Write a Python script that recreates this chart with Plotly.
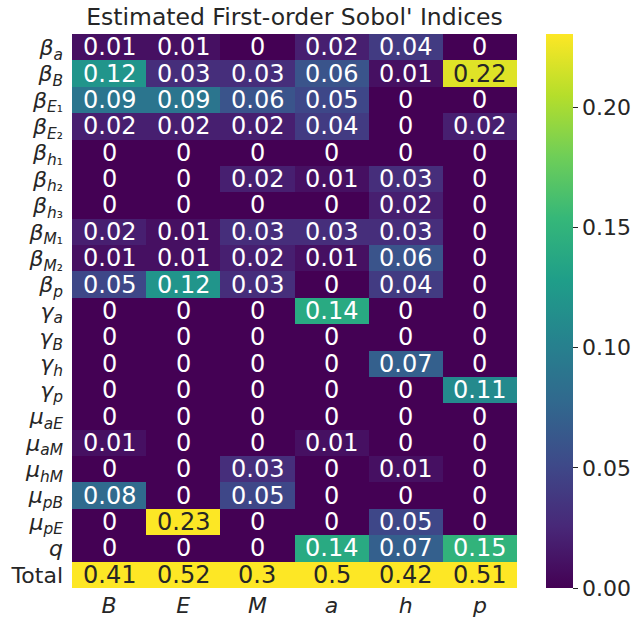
import plotly.graph_objects as go

columns = ["B", "E", "M", "a", "h", "p"]
row_labels = [
    "<i>β</i><sub><i>a</i></sub>",
    "<i>β</i><sub><i>B</i></sub>",
    "<i>β</i><sub><i>E</i>₁</sub>",
    "<i>β</i><sub><i>E</i>₂</sub>",
    "<i>β</i><sub><i>h</i>₁</sub>",
    "<i>β</i><sub><i>h</i>₂</sub>",
    "<i>β</i><sub><i>h</i>₃</sub>",
    "<i>β</i><sub><i>M</i>₁</sub>",
    "<i>β</i><sub><i>M</i>₂</sub>",
    "<i>β</i><sub><i>p</i></sub>",
    "<i>γ</i><sub><i>a</i></sub>",
    "<i>γ</i><sub><i>B</i></sub>",
    "<i>γ</i><sub><i>h</i></sub>",
    "<i>γ</i><sub><i>p</i></sub>",
    "<i>μ</i><sub><i>aE</i></sub>",
    "<i>μ</i><sub><i>aM</i></sub>",
    "<i>μ</i><sub><i>hM</i></sub>",
    "<i>μ</i><sub><i>pB</i></sub>",
    "<i>μ</i><sub><i>pE</i></sub>",
    "<i>q</i>",
    "Total",
]

beta_a  = [0.01, 0.01, 0, 0.02, 0.04, 0]
beta_B  = [0.12, 0.03, 0.03, 0.06, 0.01, 0.22]
beta_E1 = [0.09, 0.09, 0.06, 0.05, 0, 0]
beta_E2 = [0.02, 0.02, 0.02, 0.04, 0, 0.02]
beta_h1 = [0, 0, 0, 0, 0, 0]
beta_h2 = [0, 0, 0.02, 0.01, 0.03, 0]
beta_h3 = [0, 0, 0, 0, 0.02, 0]
beta_M1 = [0.02, 0.01, 0.03, 0.03, 0.03, 0]
beta_M2 = [0.01, 0.01, 0.02, 0.01, 0.06, 0]
beta_p  = [0.05, 0.12, 0.03, 0, 0.04, 0]
gamma_a = [0, 0, 0, 0.14, 0, 0]
gamma_B = [0, 0, 0, 0, 0, 0]
gamma_h = [0, 0, 0, 0, 0.07, 0]
gamma_p = [0, 0, 0, 0, 0, 0.11]
mu_aE   = [0, 0, 0, 0, 0, 0]
mu_aM   = [0.01, 0, 0, 0.01, 0, 0]
mu_hM   = [0, 0, 0.03, 0, 0.01, 0]
mu_pB   = [0.08, 0, 0.05, 0, 0, 0]
mu_pE   = [0, 0.23, 0, 0, 0.05, 0]
q_row   = [0, 0, 0, 0.14, 0.07, 0.15]
total   = [0.41, 0.52, 0.3, 0.5, 0.42, 0.51]

z = [beta_a, beta_B, beta_E1, beta_E2, beta_h1, beta_h2, beta_h3, beta_M1,
     beta_M2, beta_p, gamma_a, gamma_B, gamma_h, gamma_p, mu_aE, mu_aM,
     mu_hM, mu_pB, mu_pE, q_row, total]

ZMAX = 0.2305
FONT = "DejaVu Sans"
DARK = "#262626"

xs = list(range(len(columns)))
ys = list(range(len(row_labels)))

fig = go.Figure(go.Heatmap(
    z=z, x=xs, y=ys,
    colorscale="Viridis", zmin=0, zmax=ZMAX,
    xgap=0, ygap=0,
    colorbar=dict(
        x=(546 - 72) / 445, xanchor="left", xref="paper", xpad=0, ypad=0,
        y=0.5, yanchor="middle", len=1.0, lenmode="fraction",
        thickness=27, outlinewidth=0,
        tickvals=[0, 0.05, 0.10, 0.15, 0.20], tickformat=".2f",
        ticks="outside", ticklen=5, tickwidth=1, tickcolor=DARK,
        tickfont=dict(family=FONT, size=22, color=DARK),
    ),
    hoverinfo="skip",
))

annotations = []
for i, row in enumerate(z):
    for j, v in enumerate(row):
        frac = min(v, ZMAX) / ZMAX
        col = DARK if frac > 0.75 else "white"
        annotations.append(dict(
            x=j, y=i, xref="x", yref="y", text=format(v, ".2g"),
            showarrow=False, font=dict(family=FONT, size=24, color=col),
        ))

fig.update_layout(
    width=632, height=618,
    margin=dict(l=72, r=115, t=34, b=30, autoexpand=False),
    paper_bgcolor="white", plot_bgcolor="white",
    title=dict(text="Estimated First-order Sobol' Indices",
               x=(72 + 222.5) / 632, xanchor="center",
               y=1 - 17 / 618, yanchor="middle",
               font=dict(family=FONT, size=23.5, color=DARK)),
    xaxis=dict(tickvals=xs, ticktext=[f"<i>{c}</i>" for c in columns],
               ticks="", showgrid=False, zeroline=False, showline=False,
               ticklabelstandoff=2, automargin=False,
               tickfont=dict(family=FONT, size=22, color=DARK),
               range=[-0.5, len(columns) - 0.5]),
    yaxis=dict(tickvals=ys, ticktext=row_labels, autorange=False,
               range=[len(row_labels) - 0.5, -0.5],
               ticks="", showgrid=False, zeroline=False, showline=False,
               ticklabelstandoff=8, automargin=False,
               tickfont=dict(family=FONT, size=22, color=DARK)),
    annotations=annotations,
)

fig.write_html("out.html")
